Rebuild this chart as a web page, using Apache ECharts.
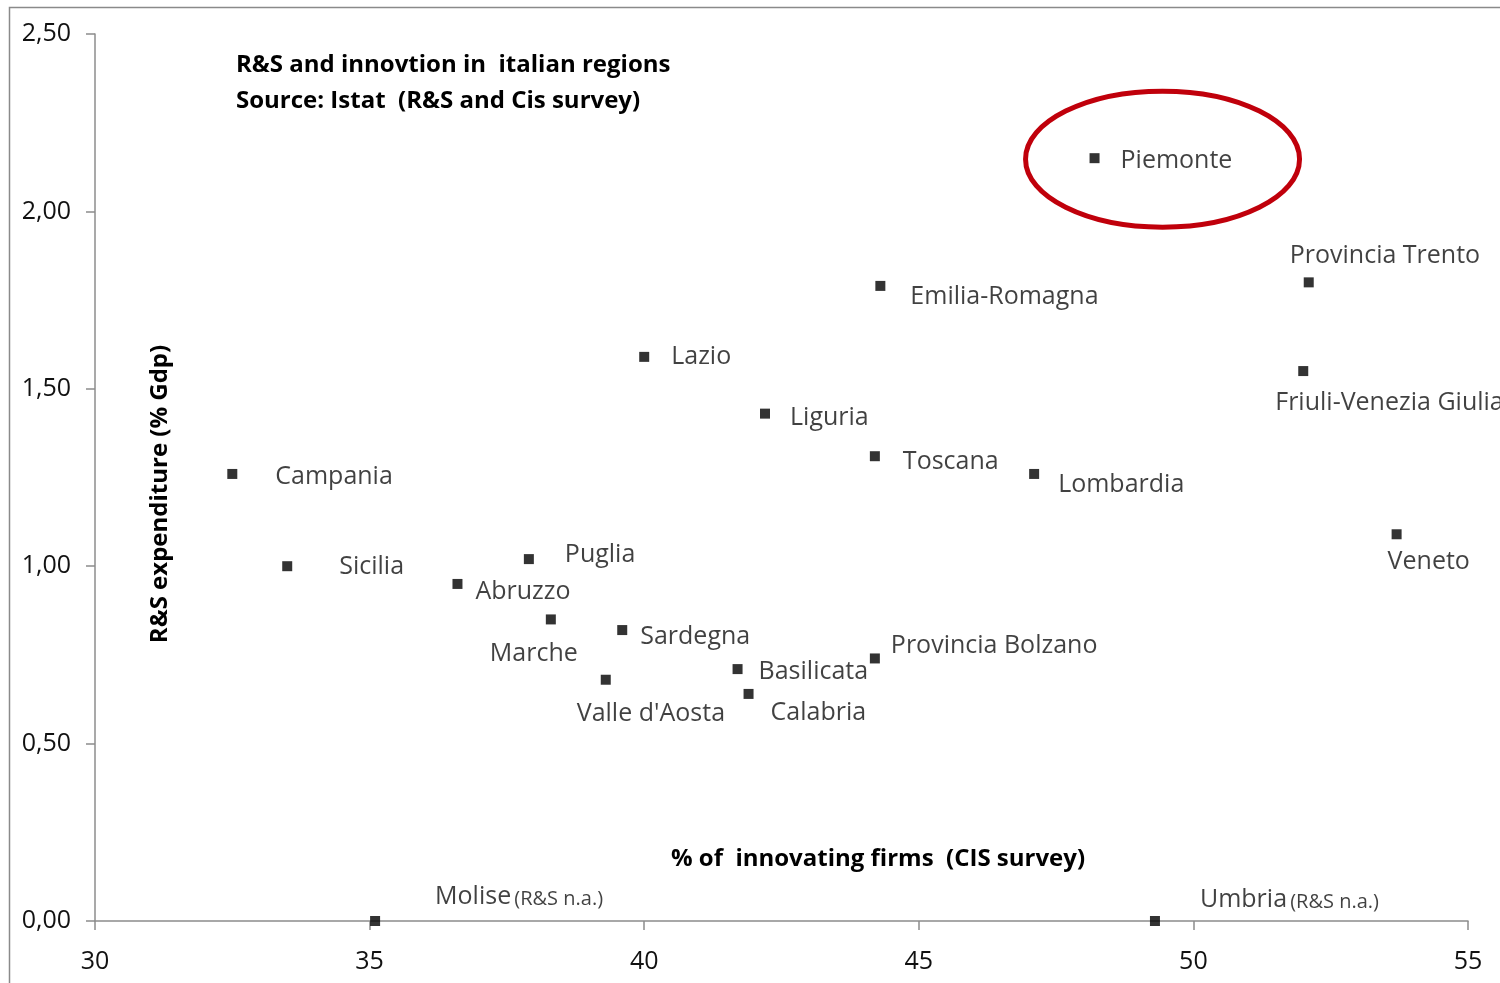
<!DOCTYPE html>
<html>
<head>
<meta charset="utf-8">
<script src="https://cdn.jsdelivr.net/npm/echarts@6/dist/echarts.min.js"></script>
<style>
  html, body { margin: 0; padding: 0; background: #fff; }
  #chart { width: 1500px; height: 983px; }
</style>
</head>
<body>
<div id="chart"></div>
<script>
// Italian regions: share of innovating firms (CIS) vs R&S expenditure (% of GDP)
const regions = [
  'Piemonte', 'Provincia Trento', 'Emilia-Romagna', 'Lazio', 'Friuli-Venezia Giulia',
  'Liguria', 'Toscana', 'Campania', 'Lombardia', 'Veneto', 'Sicilia', 'Puglia',
  'Abruzzo', 'Marche', 'Sardegna', 'Basilicata', 'Provincia Bolzano',
  "Valle d'Aosta", 'Calabria', 'Molise', 'Umbria'
];
const innovatingFirms = [
  48.2, 52.1, 44.3, 40.0, 52.0,
  42.2, 44.2, 32.5, 47.1, 53.7, 33.5, 37.9,
  36.6, 38.3, 39.6, 41.7, 44.2,
  39.3, 41.9, 35.1, 49.3
];
const rsExpenditure = [
  2.15, 1.80, 1.79, 1.59, 1.55,
  1.43, 1.31, 1.26, 1.26, 1.09, 1.00, 1.02,
  0.95, 0.85, 0.82, 0.71, 0.74,
  0.68, 0.64, 0.00, 0.00
];
// regions with no R&S figure available
const notAvailable = ['Molise', 'Umbria'];

const xTicks = { min: 30, max: 55, step: 5 };
const yTicks = { min: 0, max: 2.5, step: 0.5 };

// label placement (pixels from the marker centre to the label's left/middle)
const labelOffsets = {
  'Piemonte': [26, 3], 'Provincia Trento': [-19, -26], 'Emilia-Romagna': [30, 11],
  'Lazio': [27, 0], 'Friuli-Venezia Giulia': [-28, 32], 'Liguria': [25, 4],
  'Toscana': [28, 6], 'Campania': [43, 3], 'Lombardia': [24, 11], 'Veneto': [-9, 28],
  'Sicilia': [52, 1], 'Puglia': [36, -4], 'Abruzzo': [18, 8], 'Marche': [-61, 34],
  'Sardegna': [18, 7], 'Basilicata': [21, 3], 'Provincia Bolzano': [16, -13],
  "Valle d'Aosta": [-29, 34], 'Calabria': [22, 19], 'Molise': [60, -24], 'Umbria': [45, -21]
};

const FONT = '"Open Sans", Lato, sans-serif';
const TEXT = '#111';
const AXIS = '#8c8c8c';

const points = regions.map((name, i) => {
  const na = notAvailable.includes(name);
  return {
    name: name,
    value: [innovatingFirms[i], rsExpenditure[i]],
    label: {
      offset: labelOffsets[name],
      formatter: na ? '{n|' + name + '} {s|(R&S n.a.)}' : '{n|' + name + '}'
    }
  };
});

const chart = echarts.init(document.getElementById('chart'), null, { renderer: 'canvas' });

const baseGraphics = [
  {
    id: 'frame', type: 'rect', silent: true,
    shape: { x: 9.5, y: 7.5, width: 1520, height: 1000 },
    style: { fill: 'none', stroke: '#8a8a8a', lineWidth: 1.5 }
  },
  {
    id: 'title', type: 'text', left: 236, top: 47,
    style: {
      text: 'R&S and innovtion in  italian regions\nSource: Istat  (R&S and Cis survey)',
      font: 'bold 24px ' + FONT, fill: '#000', lineHeight: 36
    }
  },
  {
    id: 'xname', type: 'text', x: 878, y: 859,
    style: {
      text: '% of  innovating firms  (CIS survey)',
      font: 'bold 24px ' + FONT, fill: '#000', align: 'center', verticalAlign: 'middle'
    }
  },
  {
    id: 'yname', type: 'text', x: 160, y: 494, rotation: Math.PI / 2,
    style: {
      text: 'R&S expenditure (% Gdp)',
      font: 'bold 24px ' + FONT, fill: '#000', align: 'center', verticalAlign: 'middle'
    }
  }
];

chart.setOption({
  animation: false,
  backgroundColor: '#fff',
  grid: { left: 95, right: 32, top: 34, bottom: 62, containLabel: false },
  xAxis: {
    type: 'value',
    min: xTicks.min, max: xTicks.max, interval: xTicks.step,
    axisLine: { show: true, onZero: false, lineStyle: { color: AXIS, width: 1.5 } },
    axisTick: { show: true, length: 9, lineStyle: { color: AXIS, width: 1.5 } },
    axisLabel: { margin: 28, color: TEXT, fontFamily: FONT, fontSize: 25 },
    splitLine: { show: false }
  },
  yAxis: {
    type: 'value',
    min: yTicks.min, max: yTicks.max, interval: yTicks.step,
    axisLine: { show: true, onZero: false, lineStyle: { color: AXIS, width: 1.5 } },
    axisTick: { show: true, length: 9, lineStyle: { color: AXIS, width: 1.5 } },
    axisLabel: {
      margin: 24, color: TEXT, fontFamily: FONT, fontSize: 25,
      formatter: v => v.toFixed(2).replace('.', ',')
    },
    splitLine: { show: false }
  },
  series: [{
    type: 'scatter',
    symbol: 'rect',
    symbolSize: 10,
    itemStyle: { color: '#000' },
    data: points,
    label: {
      show: true,
      position: 'inside',
      align: 'left',
      verticalAlign: 'middle',
      color: TEXT,
      fontFamily: FONT,
      rich: {
        n: { fontSize: 25, fontFamily: FONT, color: TEXT },
        s: { fontSize: 20, fontFamily: FONT, color: TEXT, padding: [4, 0, 0, 0] }
      }
    },
    z: 3
  }],
  graphic: baseGraphics
});

// red ring highlighting Piemonte, anchored to its data point
const pi = regions.indexOf('Piemonte');
const c = chart.convertToPixel({ gridIndex: 0 }, [innovatingFirms[pi], rsExpenditure[pi]]);
chart.setOption({
  graphic: baseGraphics.concat([{
    id: 'ring', type: 'ellipse', silent: true, z: 10,
    shape: { cx: c[0] + 68, cy: c[1] + 1, rx: 137, ry: 68 },
    style: { fill: 'none', stroke: '#c0000b', lineWidth: 5 }
  }])
});
</script>
</body>
</html>
